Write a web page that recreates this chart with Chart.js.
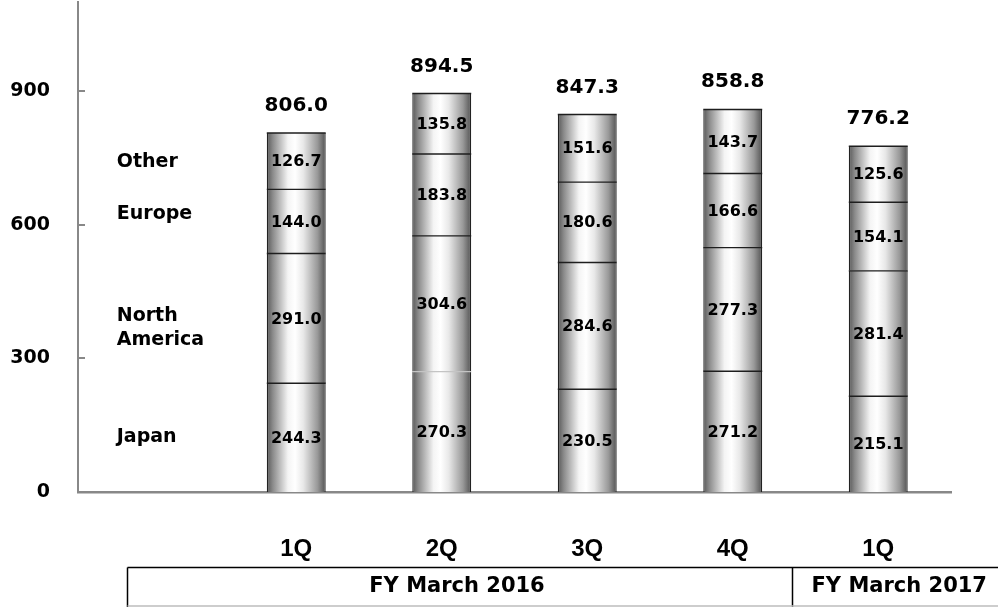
<!DOCTYPE html>
<html>
<head>
<meta charset="utf-8">
<script src="https://cdn.jsdelivr.net/npm/chart.js@4/dist/chart.umd.min.js"></script>
<style>
  html, body { margin: 0; padding: 0; background: #fff; }
  #wrap { width: 998px; height: 607px; position: relative; }
</style>
</head>
<body>
<div id="wrap"><canvas id="c" width="998" height="607"></canvas></div>
<script>
// Quarterly sales by region (stacked), first slot holds the region names
const quarters = ['', '1Q', '2Q', '3Q', '4Q', '1Q'];
const japan        = [null, 244.3, 270.3, 230.5, 271.2, 215.1];
const northAmerica = [null, 291.0, 304.6, 284.6, 277.3, 281.4];
const europe       = [null, 144.0, 183.8, 180.6, 166.6, 154.1];
const other        = [null, 126.7, 135.8, 151.6, 143.7, 125.6];
const totals       = [null, 806.0, 894.5, 847.3, 858.8, 776.2];
const yTicks = [0, 300, 600, 900];

// Region names, drawn in the empty first slot
const regionLines = [['Japan'], ['North', 'America'], ['Europe'], ['Other']];
const regionLevels = [123, 368, 624, 740];

// Fiscal-year header row under the quarter labels
const fiscalYears = ['FY March 2016', 'FY March 2017'];
const fiscalSpans = [[1, 4], [5, 5]];

const BAR_PCT = 0.405;
const BOLD = '"DejaVu Sans", Verdana, sans-serif';
const ARIAL = '"Liberation Sans", Arial, sans-serif';

function cylinder(ctx) {
  const chart = ctx.chart;
  const xs = chart.scales && chart.scales.x;
  if (!xs || ctx.dataIndex == null) return '#d0d0d0';
  const cx = xs.getPixelForValue(ctx.dataIndex);
  const half = (xs.getPixelForValue(1) - xs.getPixelForValue(0)) * BAR_PCT / 2;
  if (!isFinite(cx) || !isFinite(half) || half <= 0) return '#d0d0d0';
  const g = chart.ctx.createLinearGradient(cx - half, 0, cx + half, 0);
  g.addColorStop(0, '#585858');
  g.addColorStop(0.1, '#8a8a8a');
  g.addColorStop(0.36, '#f4f4f4');
  g.addColorStop(0.48, '#ffffff');
  g.addColorStop(0.62, '#e8e8e8');
  g.addColorStop(0.86, '#999999');
  g.addColorStop(1, '#525252');
  return g;
}

// Segment edge between Japan and North America in 2Q is drawn light
const lightEdges = [[0, 2]];
function isLight(ds, i) { return lightEdges.some(e => e[0] === ds && e[1] === i); }

function makeSet(label, data) {
  return {
    label, data,
    backgroundColor: cylinder,
    borderColor: '#222',
    borderWidth: { top: 0, left: 1.3, right: 1.3, bottom: 0 },
    borderSkipped: false,
    inflateAmount: 0,
    categoryPercentage: 1,
    barPercentage: BAR_PCT
  };
}

const chartDecor = {
  id: 'chartDecor',
  afterDatasetsDraw(chart) {
    const c = chart.ctx;
    const xs = chart.scales.x, ys = chart.scales.y;
    const area = chart.chartArea;
    c.save();

    // segment edges and stack tops
    chart.data.datasets.forEach((d, di) => {
      chart.getDatasetMeta(di).data.forEach((el, i) => {
        if (d.data[i] == null) return;
        c.strokeStyle = isLight(di, i) ? '#c4c4c4' : '#1e1e1e';
        c.lineWidth = 1.4;
        c.beginPath();
        c.moveTo(el.x - el.width / 2, el.y);
        c.lineTo(el.x + el.width / 2, el.y);
        c.stroke();
      });
    });

    // values inside segments
    c.fillStyle = '#000';
    c.font = 'bold 16px ' + BOLD;
    c.textAlign = 'center';
    c.textBaseline = 'middle';
    chart.data.datasets.forEach((d, di) => {
      chart.getDatasetMeta(di).data.forEach((el, i) => {
        const v = d.data[i];
        if (v == null) return;
        c.fillText(v.toFixed(1), el.x, (el.y + el.base) / 2 + 1);
      });
    });

    // totals above the stacks
    c.font = 'bold 20px ' + BOLD;
    c.textBaseline = 'alphabetic';
    totals.forEach((t, i) => {
      if (t == null) return;
      const x = xs.getPixelForValue(i);
      c.fillText(t.toFixed(1), x, ys.getPixelForValue(t) - 22);
    });

    // region names
    c.font = 'bold 19px ' + BOLD;
    c.textAlign = 'left';
    c.textBaseline = 'middle';
    const lx = xs.getPixelForValue(0) - 34;
    regionLines.forEach((lines, k) => {
      const yc = ys.getPixelForValue(regionLevels[k]);
      const lh = 24;
      lines.forEach((s, j) => {
        c.fillText(s, lx, yc + (j - (lines.length - 1) / 2) * lh);
      });
    });

    // inward tick marks on the value axis
    c.strokeStyle = '#888';
    c.lineWidth = 2;
    yTicks.forEach(v => {
      const y = Math.round(ys.getPixelForValue(v));
      c.beginPath();
      c.moveTo(area.left, y);
      c.lineTo(area.left + 7, y);
      c.stroke();
    });

    // fiscal-year header boxes
    const step = xs.getPixelForValue(1) - xs.getPixelForValue(0);
    const boxTop = 567.5, boxBottom = 606;
    const boxLeft = 127.5, boxRight = chart.width;
    c.strokeStyle = '#000';
    c.lineWidth = 1.5;
    c.beginPath();
    c.moveTo(boxLeft, boxTop); c.lineTo(boxRight, boxTop);
    c.moveTo(boxLeft, boxTop); c.lineTo(boxLeft, boxBottom + 1);
    const divX = Math.round(xs.getPixelForValue(fiscalSpans[1][0]) - step * 0.59) + 0.5;
    c.moveTo(divX, boxTop); c.lineTo(divX, boxBottom + 1);
    c.stroke();
    c.strokeStyle = '#bdbdbd';
    c.lineWidth = 1.5;
    c.beginPath();
    c.moveTo(boxLeft, boxBottom); c.lineTo(boxRight, boxBottom);
    c.stroke();

    c.fillStyle = '#000';
    c.font = 'bold 21px ' + BOLD;
    c.textAlign = 'center';
    c.textBaseline = 'middle';
    const cells = [[boxLeft, divX], [divX, boxRight]];
    fiscalYears.forEach((s, k) => {
      c.fillText(s, (cells[k][0] + cells[k][1]) / 2 + (k === 1 ? 4 : -3), 587);
    });

    c.restore();
  }
};

new Chart(document.getElementById('c'), {
  type: 'bar',
  data: {
    labels: quarters,
    datasets: [
      makeSet('Japan', japan),
      makeSet('North America', northAmerica),
      makeSet('Europe', europe),
      makeSet('Other', other)
    ]
  },
  options: {
    responsive: false,
    animation: false,
    events: [],
    layout: { padding: { top: 2, right: 47, left: 0, bottom: 0 } },
    plugins: { legend: { display: false }, tooltip: { enabled: false } },
    scales: {
      x: {
        stacked: true,
        grid: { display: false, drawTicks: false },
        border: { display: true, color: '#888', width: 2.5 },
        ticks: {
          padding: 43,
          color: '#000',
          font: { family: ARIAL, size: 24, weight: 'bold' },
          maxRotation: 0, autoSkip: false
        },
        afterFit(s) { s.height = 115; s.paddingLeft = 0; s.paddingRight = 0; }
      },
      y: {
        stacked: true,
        min: 0, max: 1100,
        grid: { display: false, drawTicks: false },
        border: { display: true, color: '#888', width: 2 },
        afterBuildTicks(s) { s.ticks = yTicks.map(v => ({ value: v })); },
        ticks: {
          padding: 28,
          color: '#000',
          font: { family: BOLD, size: 19, weight: 'bold' }
        },
        afterFit(s) { s.width = 78; s.paddingTop = 0; s.paddingBottom = 0; }
      }
    }
  },
  plugins: [chartDecor]
});
</script>
</body>
</html>
